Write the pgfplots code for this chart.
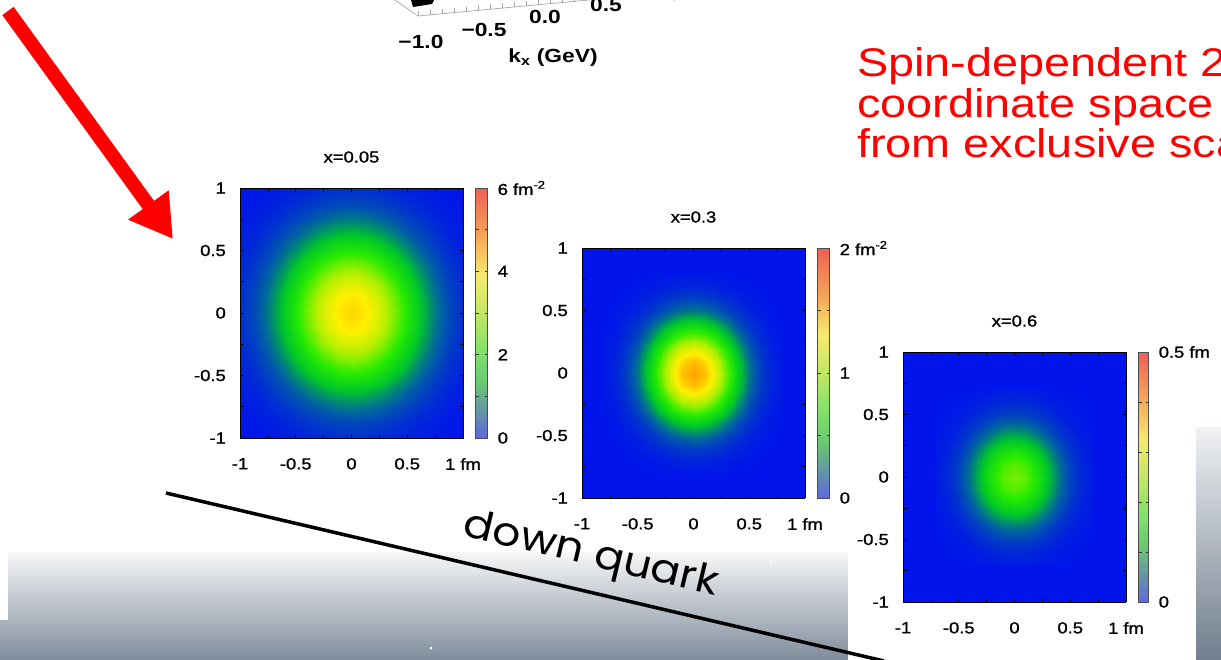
\documentclass[border=0pt]{standalone}
\usepackage{pgfplots}
\pgfplotsset{compat=1.18}
\usetikzlibrary{arrows.meta}
\usepackage{fontspec}
\setmainfont{Liberation Sans}
\newfontfamily\tickfont[FakeStretch=1.15, FakeBold=1.2]{Liberation Sans}
\newfontfamily\plotfont[FakeStretch=1.2]{Liberation Sans}
\newfontfamily\redfont[FakeStretch=1.17]{Liberation Sans}
\newfontfamily\handfont{Poppins}
\definecolor{slidered}{RGB}{255,0,0}
\definecolor{gradtop}{RGB}{246,247,248}
\definecolor{gradmid}{RGB}{200,205,212}
\definecolor{gradbot}{RGB}{128,140,156}
\definecolor{stripetop}{RGB}{240,241,243}
\definecolor{stripebot}{RGB}{112,126,142}
\pgfplotsset{
  colormap={cbarlight}{rgb255(0cm)=(95,105,225); rgb255(1cm)=(100,145,170); rgb255(2.2cm)=(105,200,115); rgb255(3.5cm)=(130,225,105); rgb255(5cm)=(195,230,100); rgb255(6.5cm)=(245,235,110); rgb255(8cm)=(245,170,90); rgb255(10cm)=(240,95,85)},
  colormap={slidejet}{rgb255(0cm)=(0,20,235); rgb255(1cm)=(0,95,165); rgb255(2.2cm)=(0,200,40); rgb255(3.5cm)=(40,235,0); rgb255(5cm)=(170,240,0); rgb255(6.5cm)=(255,240,0); rgb255(8cm)=(255,160,0); rgb255(10cm)=(255,40,30)},
  panel/.style={
    view={0}{90},
    scale only axis, width=223pt, height=250pt,
    xmin=-1, xmax=1, ymin=-1, ymax=1, ztick=\empty,
    colormap name=slidejet,
    xtick={-1,-0.5,0,0.5,1}, xticklabels={-1,-0.5,0,0.5,1 fm},
    ytick={-1,-0.5,0,0.5,1}, yticklabels={-1,-0.5,0,0.5,1},
    minor xtick={-0.75,-0.25,0.25,0.75}, minor ytick={-0.75,-0.25,0.25,0.75},
    tick align=inside, major tick length=3.5pt, minor tick length=3.5pt,
    tick style={black, line width=0.6pt},
    axis line style={black, line width=0.7pt},
    ticklabel style={font=\tickfont\fontsize{16}{16}\selectfont, inner sep=0pt},
    xticklabel style={anchor=north, yshift=-20pt},
    yticklabel style={anchor=east, xshift=-14pt},
    title style={font=\tickfont\fontsize{16}{16}\selectfont, at={(0.5,1)}, anchor=center, yshift=25pt},
    colorbar,
    colorbar style={
      at={(parent axis.north east)}, anchor=north west, xshift=4pt, width=12pt,
      colormap name=cbarlight,
      axis line style={black!70, line width=0.5pt},
      tick align=inside, major tick length=3pt, tick style={black!80, line width=0.6pt},
      yticklabel style={font=\tickfont\fontsize{16}{16}\selectfont, anchor=west, xshift=10pt, inner sep=0pt},
    },
  },
}
\begin{document}
\begin{tikzpicture}
\path[use as bounding box] (0pt,0pt) rectangle (1221pt,-659pt);
\clip (0pt,0pt) rectangle (1221pt,-659pt);
\begin{scope}[x=1pt,y=-1pt]
  \fill[white] (0,0) rectangle (1221,659);
  \shade[top color=gradtop, middle color=gradmid, bottom color=gradbot] (0,552) rectangle (848,660);
  \fill[white] (0,540) rectangle (8,620);
  \shade[top color=stripetop, bottom color=stripebot] (1196,427) rectangle (1222,660);
  \fill[white] (431,648) circle (1.5);
  \fill[white] (771,562) circle (1.5);
  \draw[black!35, line width=0.7] (395,0) -- (418,16) -- (610,-2);
  \foreach \t in {0,1,...,15} {\draw[black!35, line width=0.5] ({418+12*\t},{16-1.12*\t}) -- ++(0,-5);}
  \fill[black] (411,0) -- (434,0) -- (432,4) -- (413,7) -- cycle;
  \begin{scope}[font=\plotfont\bfseries\fontsize{19}{19}\selectfont]
    \node at (421,42) {−1.0};
    \node at (484,30) {−0.5};
    \node at (545,17) {0.0};
    \node at (606,5) {0.5};
    \node at (665,-6) {1.0};
    \node at (553,58) {k\textsubscript{x} (GeV)};
  \end{scope}
  \begin{scope}[every node/.style={anchor=base west, text=slidered, font=\redfont\fontsize{40}{40}\selectfont, inner sep=0pt}]
    \node at (857,76) {Spin-dependent 2D densities};
    \node at (857,117) {coordinate space};
    \node at (857,157) {from exclusive scattering};
  \end{scope}
  \draw[slidered, line width=14pt, -{Triangle[length=42pt, width=47pt]}] (8,11) -- (173,239);
  \fill[white] (848,300) rectangle (1196,660);
\end{scope}

\begin{axis}[panel, at={(240pt,-188pt)}, anchor=north west, title={x=0.05},
  point meta min=0, point meta max=6,
  colorbar style={ytick={0,1,...,6}, yticklabels={0,,2,,4,,6 fm\textsuperscript{-2}}}]
\addplot3[surf, shader=flat corner, mesh/cols=2] coordinates {(-1,-1,0) (1,-1,0) (-1,1,0) (1,1,0)};
\addplot3[surf, shader=interp, mesh/cols=17] table {
-1 -1 0.01
-0.875 -1 0.02
-0.75 -1 0.04
-0.625 -1 0.07
-0.5 -1 0.10
-0.375 -1 0.14
-0.25 -1 0.18
-0.125 -1 0.20
0 -1 0.21
0.125 -1 0.20
0.25 -1 0.18
0.375 -1 0.14
0.5 -1 0.10
0.625 -1 0.07
0.75 -1 0.04
0.875 -1 0.02
1 -1 0.01
-1 -0.875 0.02
-0.875 -0.875 0.04
-0.75 -0.875 0.08
-0.625 -0.875 0.13
-0.5 -0.875 0.20
-0.375 -0.875 0.28
-0.25 -0.875 0.36
-0.125 -0.875 0.41
0 -0.875 0.43
0.125 -0.875 0.41
0.25 -0.875 0.36
0.375 -0.875 0.28
0.5 -0.875 0.20
0.625 -0.875 0.13
0.75 -0.875 0.08
0.875 -0.875 0.04
1 -0.875 0.02
-1 -0.75 0.04
-0.875 -0.75 0.08
-0.75 -0.75 0.15
-0.625 -0.75 0.25
-0.5 -0.75 0.37
-0.375 -0.75 0.52
-0.25 -0.75 0.65
-0.125 -0.75 0.75
0 -0.75 0.79
0.125 -0.75 0.75
0.25 -0.75 0.65
0.375 -0.75 0.52
0.5 -0.75 0.37
0.625 -0.75 0.25
0.75 -0.75 0.15
0.875 -0.75 0.08
1 -0.75 0.04
-1 -0.625 0.07
-0.875 -0.625 0.13
-0.75 -0.625 0.25
-0.625 -0.625 0.41
-0.5 -0.625 0.62
-0.375 -0.625 0.86
-0.25 -0.625 1.09
-0.125 -0.625 1.25
0 -0.625 1.31
0.125 -0.625 1.25
0.25 -0.625 1.09
0.375 -0.625 0.86
0.5 -0.625 0.62
0.625 -0.625 0.41
0.75 -0.625 0.25
0.875 -0.625 0.13
1 -0.625 0.07
-1 -0.5 0.10
-0.875 -0.5 0.20
-0.75 -0.5 0.37
-0.625 -0.5 0.62
-0.5 -0.5 0.95
-0.375 -0.5 1.31
-0.25 -0.5 1.66
-0.125 -0.5 1.91
0 -0.5 2.00
0.125 -0.5 1.91
0.25 -0.5 1.66
0.375 -0.5 1.31
0.5 -0.5 0.95
0.625 -0.5 0.62
0.75 -0.5 0.37
0.875 -0.5 0.20
1 -0.5 0.10
-1 -0.375 0.14
-0.875 -0.375 0.28
-0.75 -0.375 0.52
-0.625 -0.375 0.86
-0.5 -0.375 1.31
-0.375 -0.375 1.82
-0.25 -0.375 2.29
-0.125 -0.375 2.64
0 -0.375 2.76
0.125 -0.375 2.64
0.25 -0.375 2.29
0.375 -0.375 1.82
0.5 -0.375 1.31
0.625 -0.375 0.86
0.75 -0.375 0.52
0.875 -0.375 0.28
1 -0.375 0.14
-1 -0.25 0.18
-0.875 -0.25 0.36
-0.75 -0.25 0.65
-0.625 -0.25 1.09
-0.5 -0.25 1.66
-0.375 -0.25 2.29
-0.25 -0.25 2.90
-0.125 -0.25 3.33
0 -0.25 3.49
0.125 -0.25 3.33
0.25 -0.25 2.90
0.375 -0.25 2.29
0.5 -0.25 1.66
0.625 -0.25 1.09
0.75 -0.25 0.65
0.875 -0.25 0.36
1 -0.25 0.18
-1 -0.125 0.20
-0.875 -0.125 0.41
-0.75 -0.125 0.75
-0.625 -0.125 1.25
-0.5 -0.125 1.91
-0.375 -0.125 2.64
-0.25 -0.125 3.33
-0.125 -0.125 3.83
0 -0.125 4.01
0.125 -0.125 3.83
0.25 -0.125 3.33
0.375 -0.125 2.64
0.5 -0.125 1.91
0.625 -0.125 1.25
0.75 -0.125 0.75
0.875 -0.125 0.41
1 -0.125 0.20
-1 0 0.21
-0.875 0 0.43
-0.75 0 0.79
-0.625 0 1.31
-0.5 0 2.00
-0.375 0 2.76
-0.25 0 3.49
-0.125 0 4.01
0 0 4.20
0.125 0 4.01
0.25 0 3.49
0.375 0 2.76
0.5 0 2.00
0.625 0 1.31
0.75 0 0.79
0.875 0 0.43
1 0 0.21
-1 0.125 0.20
-0.875 0.125 0.41
-0.75 0.125 0.75
-0.625 0.125 1.25
-0.5 0.125 1.91
-0.375 0.125 2.64
-0.25 0.125 3.33
-0.125 0.125 3.83
0 0.125 4.01
0.125 0.125 3.83
0.25 0.125 3.33
0.375 0.125 2.64
0.5 0.125 1.91
0.625 0.125 1.25
0.75 0.125 0.75
0.875 0.125 0.41
1 0.125 0.20
-1 0.25 0.18
-0.875 0.25 0.36
-0.75 0.25 0.65
-0.625 0.25 1.09
-0.5 0.25 1.66
-0.375 0.25 2.29
-0.25 0.25 2.90
-0.125 0.25 3.33
0 0.25 3.49
0.125 0.25 3.33
0.25 0.25 2.90
0.375 0.25 2.29
0.5 0.25 1.66
0.625 0.25 1.09
0.75 0.25 0.65
0.875 0.25 0.36
1 0.25 0.18
-1 0.375 0.14
-0.875 0.375 0.28
-0.75 0.375 0.52
-0.625 0.375 0.86
-0.5 0.375 1.31
-0.375 0.375 1.82
-0.25 0.375 2.29
-0.125 0.375 2.64
0 0.375 2.76
0.125 0.375 2.64
0.25 0.375 2.29
0.375 0.375 1.82
0.5 0.375 1.31
0.625 0.375 0.86
0.75 0.375 0.52
0.875 0.375 0.28
1 0.375 0.14
-1 0.5 0.10
-0.875 0.5 0.20
-0.75 0.5 0.37
-0.625 0.5 0.62
-0.5 0.5 0.95
-0.375 0.5 1.31
-0.25 0.5 1.66
-0.125 0.5 1.91
0 0.5 2.00
0.125 0.5 1.91
0.25 0.5 1.66
0.375 0.5 1.31
0.5 0.5 0.95
0.625 0.5 0.62
0.75 0.5 0.37
0.875 0.5 0.20
1 0.5 0.10
-1 0.625 0.07
-0.875 0.625 0.13
-0.75 0.625 0.25
-0.625 0.625 0.41
-0.5 0.625 0.62
-0.375 0.625 0.86
-0.25 0.625 1.09
-0.125 0.625 1.25
0 0.625 1.31
0.125 0.625 1.25
0.25 0.625 1.09
0.375 0.625 0.86
0.5 0.625 0.62
0.625 0.625 0.41
0.75 0.625 0.25
0.875 0.625 0.13
1 0.625 0.07
-1 0.75 0.04
-0.875 0.75 0.08
-0.75 0.75 0.15
-0.625 0.75 0.25
-0.5 0.75 0.37
-0.375 0.75 0.52
-0.25 0.75 0.65
-0.125 0.75 0.75
0 0.75 0.79
0.125 0.75 0.75
0.25 0.75 0.65
0.375 0.75 0.52
0.5 0.75 0.37
0.625 0.75 0.25
0.75 0.75 0.15
0.875 0.75 0.08
1 0.75 0.04
-1 0.875 0.02
-0.875 0.875 0.04
-0.75 0.875 0.08
-0.625 0.875 0.13
-0.5 0.875 0.20
-0.375 0.875 0.28
-0.25 0.875 0.36
-0.125 0.875 0.41
0 0.875 0.43
0.125 0.875 0.41
0.25 0.875 0.36
0.375 0.875 0.28
0.5 0.875 0.20
0.625 0.875 0.13
0.75 0.875 0.08
0.875 0.875 0.04
1 0.875 0.02
-1 1 0.01
-0.875 1 0.02
-0.75 1 0.04
-0.625 1 0.07
-0.5 1 0.10
-0.375 1 0.14
-0.25 1 0.18
-0.125 1 0.20
0 1 0.21
0.125 1 0.20
0.25 1 0.18
0.375 1 0.14
0.5 1 0.10
0.625 1 0.07
0.75 1 0.04
0.875 1 0.02
1 1 0.01
};
\end{axis}

\begin{axis}[panel, at={(582pt,-248pt)}, anchor=north west, title={x=0.3},
  point meta min=0, point meta max=2,
  colorbar style={ytick={0,0.5,...,2}, yticklabels={0,,1,,2 fm\textsuperscript{-2}}}]
\addplot3[surf, shader=flat corner, mesh/cols=2] coordinates {(-1,-1,0) (1,-1,0) (-1,1,0) (1,1,0)};
\addplot3[surf, shader=interp, mesh/cols=17] table {
-0.8 -0.8 0
-0.7 -0.8 0
-0.6 -0.8 0
-0.5 -0.8 0
-0.4 -0.8 0
-0.3 -0.8 0.01
-0.2 -0.8 0.01
-0.1 -0.8 0.01
0 -0.8 0.01
0.1 -0.8 0.01
0.2 -0.8 0.01
0.3 -0.8 0.01
0.4 -0.8 0
0.5 -0.8 0
0.6 -0.8 0
0.7 -0.8 0
0.8 -0.8 0
-0.8 -0.7 0
-0.7 -0.7 0
-0.6 -0.7 0
-0.5 -0.7 0.01
-0.4 -0.7 0.01
-0.3 -0.7 0.02
-0.2 -0.7 0.03
-0.1 -0.7 0.04
0 -0.7 0.04
0.1 -0.7 0.04
0.2 -0.7 0.03
0.3 -0.7 0.02
0.4 -0.7 0.01
0.5 -0.7 0.01
0.6 -0.7 0
0.7 -0.7 0
0.8 -0.7 0
-0.8 -0.6 0
-0.7 -0.6 0
-0.6 -0.6 0.01
-0.5 -0.6 0.02
-0.4 -0.6 0.04
-0.3 -0.6 0.06
-0.2 -0.6 0.09
-0.1 -0.6 0.11
0 -0.6 0.12
0.1 -0.6 0.11
0.2 -0.6 0.09
0.3 -0.6 0.06
0.4 -0.6 0.04
0.5 -0.6 0.02
0.6 -0.6 0.01
0.7 -0.6 0
0.8 -0.6 0
-0.8 -0.5 0
-0.7 -0.5 0.01
-0.6 -0.5 0.02
-0.5 -0.5 0.04
-0.4 -0.5 0.08
-0.3 -0.5 0.13
-0.2 -0.5 0.19
-0.1 -0.5 0.24
0 -0.5 0.26
0.1 -0.5 0.24
0.2 -0.5 0.19
0.3 -0.5 0.13
0.4 -0.5 0.08
0.5 -0.5 0.04
0.6 -0.5 0.02
0.7 -0.5 0.01
0.8 -0.5 0
-0.8 -0.4 0
-0.7 -0.4 0.01
-0.6 -0.4 0.04
-0.5 -0.4 0.08
-0.4 -0.4 0.15
-0.3 -0.4 0.26
-0.2 -0.4 0.37
-0.1 -0.4 0.46
0 -0.4 0.50
0.1 -0.4 0.46
0.2 -0.4 0.37
0.3 -0.4 0.26
0.4 -0.4 0.15
0.5 -0.4 0.08
0.6 -0.4 0.04
0.7 -0.4 0.01
0.8 -0.4 0
-0.8 -0.3 0.01
-0.7 -0.3 0.02
-0.6 -0.3 0.06
-0.5 -0.3 0.13
-0.4 -0.3 0.26
-0.3 -0.3 0.43
-0.2 -0.3 0.62
-0.1 -0.3 0.77
0 -0.3 0.83
0.1 -0.3 0.77
0.2 -0.3 0.62
0.3 -0.3 0.43
0.4 -0.3 0.26
0.5 -0.3 0.13
0.6 -0.3 0.06
0.7 -0.3 0.02
0.8 -0.3 0.01
-0.8 -0.2 0.01
-0.7 -0.2 0.03
-0.6 -0.2 0.09
-0.5 -0.2 0.19
-0.4 -0.2 0.37
-0.3 -0.2 0.62
-0.2 -0.2 0.89
-0.1 -0.2 1.11
0 -0.2 1.19
0.1 -0.2 1.11
0.2 -0.2 0.89
0.3 -0.2 0.62
0.4 -0.2 0.37
0.5 -0.2 0.19
0.6 -0.2 0.09
0.7 -0.2 0.03
0.8 -0.2 0.01
-0.8 -0.1 0.01
-0.7 -0.1 0.04
-0.6 -0.1 0.11
-0.5 -0.1 0.24
-0.4 -0.1 0.46
-0.3 -0.1 0.77
-0.2 -0.1 1.11
-0.1 -0.1 1.38
0 -0.1 1.49
0.1 -0.1 1.38
0.2 -0.1 1.11
0.3 -0.1 0.77
0.4 -0.1 0.46
0.5 -0.1 0.24
0.6 -0.1 0.11
0.7 -0.1 0.04
0.8 -0.1 0.01
-0.8 0 0.01
-0.7 0 0.04
-0.6 0 0.12
-0.5 0 0.26
-0.4 0 0.50
-0.3 0 0.83
-0.2 0 1.19
-0.1 0 1.49
0 0 1.60
0.1 0 1.49
0.2 0 1.19
0.3 0 0.83
0.4 0 0.50
0.5 0 0.26
0.6 0 0.12
0.7 0 0.04
0.8 0 0.01
-0.8 0.1 0.01
-0.7 0.1 0.04
-0.6 0.1 0.11
-0.5 0.1 0.24
-0.4 0.1 0.46
-0.3 0.1 0.77
-0.2 0.1 1.11
-0.1 0.1 1.38
0 0.1 1.49
0.1 0.1 1.38
0.2 0.1 1.11
0.3 0.1 0.77
0.4 0.1 0.46
0.5 0.1 0.24
0.6 0.1 0.11
0.7 0.1 0.04
0.8 0.1 0.01
-0.8 0.2 0.01
-0.7 0.2 0.03
-0.6 0.2 0.09
-0.5 0.2 0.19
-0.4 0.2 0.37
-0.3 0.2 0.62
-0.2 0.2 0.89
-0.1 0.2 1.11
0 0.2 1.19
0.1 0.2 1.11
0.2 0.2 0.89
0.3 0.2 0.62
0.4 0.2 0.37
0.5 0.2 0.19
0.6 0.2 0.09
0.7 0.2 0.03
0.8 0.2 0.01
-0.8 0.3 0.01
-0.7 0.3 0.02
-0.6 0.3 0.06
-0.5 0.3 0.13
-0.4 0.3 0.26
-0.3 0.3 0.43
-0.2 0.3 0.62
-0.1 0.3 0.77
0 0.3 0.83
0.1 0.3 0.77
0.2 0.3 0.62
0.3 0.3 0.43
0.4 0.3 0.26
0.5 0.3 0.13
0.6 0.3 0.06
0.7 0.3 0.02
0.8 0.3 0.01
-0.8 0.4 0
-0.7 0.4 0.01
-0.6 0.4 0.04
-0.5 0.4 0.08
-0.4 0.4 0.15
-0.3 0.4 0.26
-0.2 0.4 0.37
-0.1 0.4 0.46
0 0.4 0.50
0.1 0.4 0.46
0.2 0.4 0.37
0.3 0.4 0.26
0.4 0.4 0.15
0.5 0.4 0.08
0.6 0.4 0.04
0.7 0.4 0.01
0.8 0.4 0
-0.8 0.5 0
-0.7 0.5 0.01
-0.6 0.5 0.02
-0.5 0.5 0.04
-0.4 0.5 0.08
-0.3 0.5 0.13
-0.2 0.5 0.19
-0.1 0.5 0.24
0 0.5 0.26
0.1 0.5 0.24
0.2 0.5 0.19
0.3 0.5 0.13
0.4 0.5 0.08
0.5 0.5 0.04
0.6 0.5 0.02
0.7 0.5 0.01
0.8 0.5 0
-0.8 0.6 0
-0.7 0.6 0
-0.6 0.6 0.01
-0.5 0.6 0.02
-0.4 0.6 0.04
-0.3 0.6 0.06
-0.2 0.6 0.09
-0.1 0.6 0.11
0 0.6 0.12
0.1 0.6 0.11
0.2 0.6 0.09
0.3 0.6 0.06
0.4 0.6 0.04
0.5 0.6 0.02
0.6 0.6 0.01
0.7 0.6 0
0.8 0.6 0
-0.8 0.7 0
-0.7 0.7 0
-0.6 0.7 0
-0.5 0.7 0.01
-0.4 0.7 0.01
-0.3 0.7 0.02
-0.2 0.7 0.03
-0.1 0.7 0.04
0 0.7 0.04
0.1 0.7 0.04
0.2 0.7 0.03
0.3 0.7 0.02
0.4 0.7 0.01
0.5 0.7 0.01
0.6 0.7 0
0.7 0.7 0
0.8 0.7 0
-0.8 0.8 0
-0.7 0.8 0
-0.6 0.8 0
-0.5 0.8 0
-0.4 0.8 0
-0.3 0.8 0.01
-0.2 0.8 0.01
-0.1 0.8 0.01
0 0.8 0.01
0.1 0.8 0.01
0.2 0.8 0.01
0.3 0.8 0.01
0.4 0.8 0
0.5 0.8 0
0.6 0.8 0
0.7 0.8 0
0.8 0.8 0
};
\end{axis}

\begin{axis}[panel, at={(903pt,-352pt)}, anchor=north west, title={x=0.6},
  point meta min=0, point meta max=0.5,
  colorbar style={width=10pt, ytick={0,0.1,...,0.5}, yticklabels={0,,,,,0.5 fm}}]
\addplot3[surf, shader=flat corner, mesh/cols=2] coordinates {(-1,-1,0) (1,-1,0) (-1,1,0) (1,1,0)};
\addplot3[surf, shader=interp, mesh/cols=15] table {
-0.7 -0.7 0
-0.6 -0.7 0
-0.5 -0.7 0.001
-0.4 -0.7 0.001
-0.3 -0.7 0.003
-0.2 -0.7 0.004
-0.1 -0.7 0.005
0 -0.7 0.005
0.1 -0.7 0.005
0.2 -0.7 0.004
0.3 -0.7 0.003
0.4 -0.7 0.001
0.5 -0.7 0.001
0.6 -0.7 0
0.7 -0.7 0
-0.7 -0.6 0
-0.6 -0.6 0.001
-0.5 -0.6 0.002
-0.4 -0.6 0.004
-0.3 -0.6 0.007
-0.2 -0.6 0.010
-0.1 -0.6 0.013
0 -0.6 0.014
0.1 -0.6 0.013
0.2 -0.6 0.010
0.3 -0.6 0.007
0.4 -0.6 0.004
0.5 -0.6 0.002
0.6 -0.6 0.001
0.7 -0.6 0
-0.7 -0.5 0.001
-0.6 -0.5 0.002
-0.5 -0.5 0.005
-0.4 -0.5 0.009
-0.3 -0.5 0.016
-0.2 -0.5 0.024
-0.1 -0.5 0.030
0 -0.5 0.032
0.1 -0.5 0.030
0.2 -0.5 0.024
0.3 -0.5 0.016
0.4 -0.5 0.009
0.5 -0.5 0.005
0.6 -0.5 0.002
0.7 -0.5 0.001
-0.7 -0.4 0.001
-0.6 -0.4 0.004
-0.5 -0.4 0.009
-0.4 -0.4 0.019
-0.3 -0.4 0.032
-0.2 -0.4 0.047
-0.1 -0.4 0.060
0 -0.4 0.064
0.1 -0.4 0.060
0.2 -0.4 0.047
0.3 -0.4 0.032
0.4 -0.4 0.019
0.5 -0.4 0.009
0.6 -0.4 0.004
0.7 -0.4 0.001
-0.7 -0.3 0.003
-0.6 -0.3 0.007
-0.5 -0.3 0.016
-0.4 -0.3 0.032
-0.3 -0.3 0.055
-0.2 -0.3 0.081
-0.1 -0.3 0.102
0 -0.3 0.110
0.1 -0.3 0.102
0.2 -0.3 0.081
0.3 -0.3 0.055
0.4 -0.3 0.032
0.5 -0.3 0.016
0.6 -0.3 0.007
0.7 -0.3 0.003
-0.7 -0.2 0.004
-0.6 -0.2 0.010
-0.5 -0.2 0.024
-0.4 -0.2 0.047
-0.3 -0.2 0.081
-0.2 -0.2 0.119
-0.1 -0.2 0.150
0 -0.2 0.162
0.1 -0.2 0.150
0.2 -0.2 0.119
0.3 -0.2 0.081
0.4 -0.2 0.047
0.5 -0.2 0.024
0.6 -0.2 0.010
0.7 -0.2 0.004
-0.7 -0.1 0.005
-0.6 -0.1 0.013
-0.5 -0.1 0.030
-0.4 -0.1 0.060
-0.3 -0.1 0.102
-0.2 -0.1 0.150
-0.1 -0.1 0.189
0 -0.1 0.204
0.1 -0.1 0.189
0.2 -0.1 0.150
0.3 -0.1 0.102
0.4 -0.1 0.060
0.5 -0.1 0.030
0.6 -0.1 0.013
0.7 -0.1 0.005
-0.7 0 0.005
-0.6 0 0.014
-0.5 0 0.032
-0.4 0 0.064
-0.3 0 0.110
-0.2 0 0.162
-0.1 0 0.204
0 0 0.220
0.1 0 0.204
0.2 0 0.162
0.3 0 0.110
0.4 0 0.064
0.5 0 0.032
0.6 0 0.014
0.7 0 0.005
-0.7 0.1 0.005
-0.6 0.1 0.013
-0.5 0.1 0.030
-0.4 0.1 0.060
-0.3 0.1 0.102
-0.2 0.1 0.150
-0.1 0.1 0.189
0 0.1 0.204
0.1 0.1 0.189
0.2 0.1 0.150
0.3 0.1 0.102
0.4 0.1 0.060
0.5 0.1 0.030
0.6 0.1 0.013
0.7 0.1 0.005
-0.7 0.2 0.004
-0.6 0.2 0.010
-0.5 0.2 0.024
-0.4 0.2 0.047
-0.3 0.2 0.081
-0.2 0.2 0.119
-0.1 0.2 0.150
0 0.2 0.162
0.1 0.2 0.150
0.2 0.2 0.119
0.3 0.2 0.081
0.4 0.2 0.047
0.5 0.2 0.024
0.6 0.2 0.010
0.7 0.2 0.004
-0.7 0.3 0.003
-0.6 0.3 0.007
-0.5 0.3 0.016
-0.4 0.3 0.032
-0.3 0.3 0.055
-0.2 0.3 0.081
-0.1 0.3 0.102
0 0.3 0.110
0.1 0.3 0.102
0.2 0.3 0.081
0.3 0.3 0.055
0.4 0.3 0.032
0.5 0.3 0.016
0.6 0.3 0.007
0.7 0.3 0.003
-0.7 0.4 0.001
-0.6 0.4 0.004
-0.5 0.4 0.009
-0.4 0.4 0.019
-0.3 0.4 0.032
-0.2 0.4 0.047
-0.1 0.4 0.060
0 0.4 0.064
0.1 0.4 0.060
0.2 0.4 0.047
0.3 0.4 0.032
0.4 0.4 0.019
0.5 0.4 0.009
0.6 0.4 0.004
0.7 0.4 0.001
-0.7 0.5 0.001
-0.6 0.5 0.002
-0.5 0.5 0.005
-0.4 0.5 0.009
-0.3 0.5 0.016
-0.2 0.5 0.024
-0.1 0.5 0.030
0 0.5 0.032
0.1 0.5 0.030
0.2 0.5 0.024
0.3 0.5 0.016
0.4 0.5 0.009
0.5 0.5 0.005
0.6 0.5 0.002
0.7 0.5 0.001
-0.7 0.6 0
-0.6 0.6 0.001
-0.5 0.6 0.002
-0.4 0.6 0.004
-0.3 0.6 0.007
-0.2 0.6 0.010
-0.1 0.6 0.013
0 0.6 0.014
0.1 0.6 0.013
0.2 0.6 0.010
0.3 0.6 0.007
0.4 0.6 0.004
0.5 0.6 0.002
0.6 0.6 0.001
0.7 0.6 0
-0.7 0.7 0
-0.6 0.7 0
-0.5 0.7 0.001
-0.4 0.7 0.001
-0.3 0.7 0.003
-0.2 0.7 0.004
-0.1 0.7 0.005
0 0.7 0.005
0.1 0.7 0.005
0.2 0.7 0.004
0.3 0.7 0.003
0.4 0.7 0.001
0.5 0.7 0.001
0.6 0.7 0
0.7 0.7 0
};
\end{axis}

\begin{scope}[x=1pt,y=-1pt]
  \draw[black, line width=3.5pt] (166,493) -- (884,661);
  \node[font=\handfont\fontsize{40}{40}\selectfont, rotate=-13.3, xscale=1.1] at (591,556) {down quark};
\end{scope}
\end{tikzpicture}
\end{document}
